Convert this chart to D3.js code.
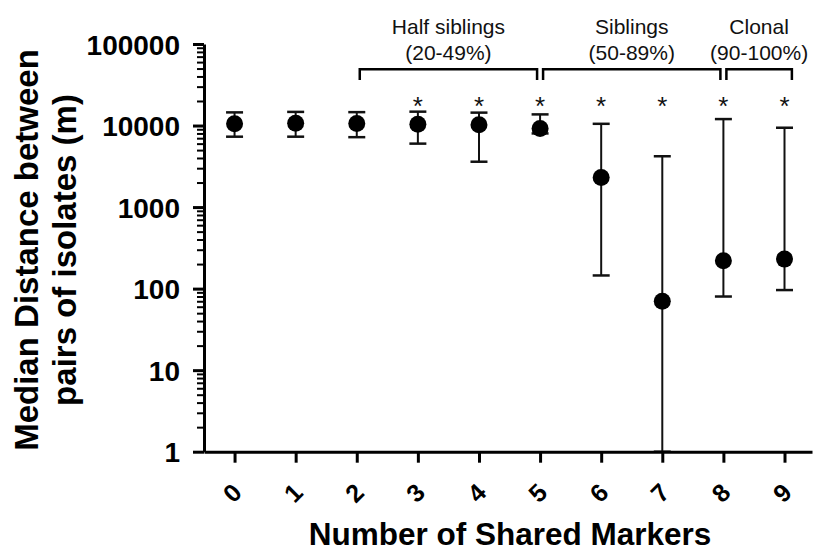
<!DOCTYPE html>
<html>
<head>
<meta charset="utf-8">
<script src="https://cdn.jsdelivr.net/npm/d3@7"></script>
<style>
  html, body { margin: 0; padding: 0; background: #fff; }
  svg { display: block; font-family: "Liberation Sans", Arial, Helvetica, sans-serif; }
</style>
</head>
<body>
<svg id="chart" width="814" height="552"></svg>
<script>
// Number of shared markers between isolate pairs
const markers = [0, 1, 2, 3, 4, 5, 6, 7, 8, 9];
// Median distance (m) with upper / lower error limits
const medians = [10500, 10700, 10600, 10400, 10200, 9200, 2300, 70, 220, 230];
const upperLimits = [14500, 14700, 14600, 14800, 14400, 13700, 10500, 4200, 12000, 9400];
const lowerLimits = [7300, 7300, 7200, 6000, 3600, 8000, 145, 1, 80, 96];
// Markers flagged as significant
const significantMarkers = [3, 4, 5, 6, 7, 8, 9];
// Y axis decades
const yTickValues = [1, 10, 100, 1000, 10000, 100000];
// Relatedness groups over the top of the plot
const groupNames = ["Half siblings", "Siblings", "Clonal"];
const groupRanges = ["(20-49%)", "(50-89%)", "(90-100%)"];
const groupStart = [2, 5, 8];
const groupEnd = [5, 8, 9.17];

const svg = d3.select("#chart");

const x = d3.scaleLinear().domain([-0.5, 9.45]).range([204, 812]);
const y = d3.scaleLog().domain([1, 100000]).range([451.7, 44]);

// Error bars
const bars = svg.append("g").attr("stroke", "#111");
markers.forEach((m, i) => {
  const cx = x(m);
  bars.append("line")
    .attr("x1", cx).attr("x2", cx)
    .attr("y1", y(lowerLimits[i])).attr("y2", y(upperLimits[i]))
    .attr("stroke-width", 2);
  [upperLimits[i], lowerLimits[i]].forEach(v => {
    bars.append("line")
      .attr("x1", cx - 8.5).attr("x2", cx + 8.5)
      .attr("y1", y(v)).attr("y2", y(v))
      .attr("stroke-width", 2.5);
  });
});

// Median points
svg.append("g").selectAll("circle")
  .data(markers)
  .join("circle")
  .attr("cx", d => x(d))
  .attr("cy", (d, i) => y(medians[i]))
  .attr("r", 8.5)
  .attr("fill", "#000");

// Y axis: labelled decades plus minor ticks
const minorTicks = [];
for (let p = 0; p < 5; p++) {
  for (let k = 2; k <= 9; k++) minorTicks.push(k * Math.pow(10, p));
}
const yMinor = svg.append("g").attr("transform", "translate(204,0)")
  .call(d3.axisLeft(y).tickValues(minorTicks).tickSize(7).tickSizeOuter(0).tickFormat(""));
yMinor.select(".domain").remove();
yMinor.selectAll(".tick line").attr("stroke", "#000").attr("stroke-width", 2);

const yAxis = svg.append("g").attr("transform", "translate(204,0)")
  .call(d3.axisLeft(y).tickValues(yTickValues).tickSize(11).tickSizeOuter(0)
    .tickPadding(13).tickFormat(d3.format("d")));
yAxis.select(".domain").attr("stroke", "#000").attr("stroke-width", 3);
yAxis.selectAll(".tick line").attr("stroke", "#000").attr("stroke-width", 3);
yAxis.selectAll(".tick text")
  .attr("font-size", 28).attr("font-weight", "bold")
  .attr("font-family", "'Liberation Sans', Arial, sans-serif")
  .attr("fill", "#000").attr("dy", "0.36em");

// X axis
const xAxis = svg.append("g").attr("transform", "translate(0,451.7)")
  .call(d3.axisBottom(x).tickValues(markers).tickSize(11).tickSizeOuter(0).tickFormat(""));
xAxis.select(".domain").attr("stroke", "#000").attr("stroke-width", 3);
xAxis.selectAll(".tick line").attr("stroke", "#000").attr("stroke-width", 3);
xAxis.selectAll(".tick").append("text")
  .text(d => d)
  .attr("transform", "translate(-3,41) rotate(-45)")
  .attr("text-anchor", "middle")
  .attr("dy", "0.36em")
  .attr("font-size", 25).attr("font-weight", "bold")
  .attr("font-family", "'Liberation Sans', Arial, sans-serif")
  .attr("fill", "#000");

// Significance asterisks
svg.append("g").selectAll("text")
  .data(significantMarkers)
  .join("text")
  .attr("x", d => x(d))
  .attr("y", 115)
  .attr("text-anchor", "middle")
  .attr("font-size", 26)
  .attr("fill", "#111")
  .text("*");

// Group brackets and labels
groupNames.forEach((name, i) => {
  const x0 = x(groupStart[i]) + 3;
  const x1 = x(groupEnd[i]) - 3;
  svg.append("path")
    .attr("d", `M${x0},80V69.3H${x1}V80`)
    .attr("fill", "none").attr("stroke", "#000").attr("stroke-width", 2.5);
  const cx = (x0 + x1) / 2;
  svg.append("text").attr("x", cx).attr("y", 34)
    .attr("text-anchor", "middle").attr("font-size", 21).attr("fill", "#111")
    .text(name);
  svg.append("text").attr("x", cx).attr("y", 60)
    .attr("text-anchor", "middle").attr("font-size", 21).attr("fill", "#111")
    .text(groupRanges[i]);
});

// Axis titles
svg.append("text")
  .attr("x", 510).attr("y", 544.5)
  .attr("text-anchor", "middle")
  .attr("font-size", 31.5).attr("font-weight", "bold").attr("fill", "#000")
  .text("Number of Shared Markers");

const yTitle = svg.append("text")
  .attr("transform", "translate(38,250) rotate(-90)")
  .attr("text-anchor", "middle")
  .attr("font-size", 33).attr("font-weight", "bold").attr("fill", "#000");
yTitle.append("tspan").attr("x", 0).attr("y", 0).text("Median Distance between");
yTitle.append("tspan").attr("x", 0).attr("y", 38).text("pairs of isolates (m)");
</script>
</body>
</html>
